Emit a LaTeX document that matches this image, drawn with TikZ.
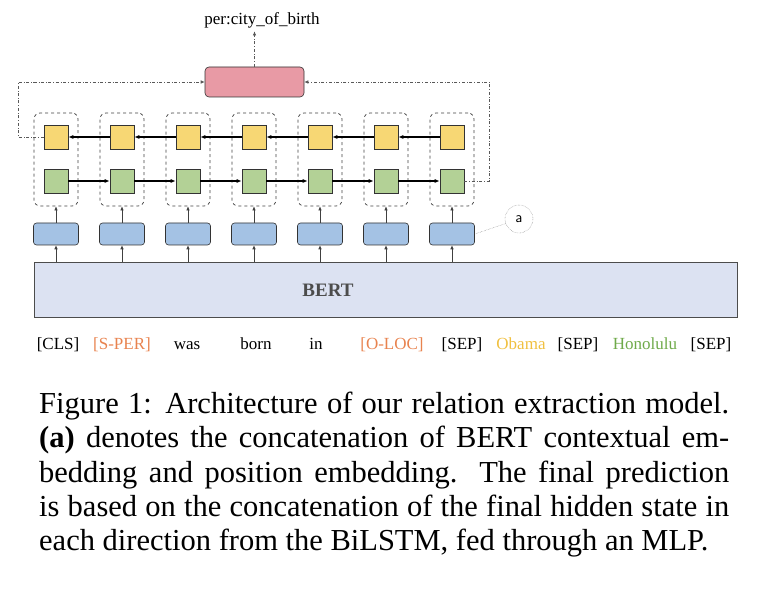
\documentclass[tikz,border=0pt]{standalone}
\usepackage{fontspec}
\setmainfont{Liberation Serif}
\usetikzlibrary{arrows.meta}
\definecolor{yel}{HTML}{F7D774}
\definecolor{grn}{HTML}{B3D196}
\definecolor{blu}{HTML}{A4C2E4}
\definecolor{rd}{HTML}{E89AA5}
\definecolor{bert}{HTML}{DCE2F2}
\definecolor{org}{HTML}{E8834F}
\definecolor{oba}{HTML}{F0C040}
\definecolor{hon}{HTML}{6FAA4A}
\begin{document}
\begin{tikzpicture}[x=1pt,y=-1pt,
 sq/.style={draw=black!80,line width=0.6pt,minimum width=24pt,minimum height=24pt,inner sep=0},
 cont/.style={draw=black!75,dashed,rounded corners=6pt,line width=0.7pt,minimum width=44pt,minimum height=93pt,inner sep=0},
 emb/.style={draw=black!80,fill=blu,rounded corners=3pt,minimum width=45pt,minimum height=22pt,inner sep=0,line width=0.6pt},
 arr/.style={-{Latex[length=5pt,width=4pt]},line width=1.1pt},
 up/.style={-{Latex[length=4pt,width=3.5pt]},line width=0.6pt,black!75},
 dd/.style={dash dot,line width=0.6pt,black!65},
 tok/.style={font=\fontsize{17}{18}\selectfont,inner sep=0,anchor=base}]
\useasboundingbox (0,0) rectangle (764,601);
\node[draw=black!70,fill=bert,minimum width=703pt,minimum height=55pt,inner sep=0,line width=0.6pt] (bert) at (385.5,289.5) {};
\node[font=\fontsize{19}{20}\selectfont\bfseries,text=black!70] (bt) at (328,290) {BERT};
\foreach \i/\x in {1/56,2/122,3/188,4/254,5/320,6/386,7/452}{
 \node[cont] (c\i) at (\x,159.5) {};
 \node[sq,fill=yel] (y\i) at (\x,137) {};
 \node[sq,fill=grn] (g\i) at (\x,181) {};
 \node[emb] (e\i) at (\x,234) {};
 \draw[up] (e\i.south|-bert.north) -- (e\i.south);
 \draw[up] (e\i.north) -- (c\i.south);
}
\foreach \a/\b in {1/2,2/3,3/4,4/5,5/6,6/7}{
 \draw[arr] (y\b.west) -- (y\a.east);
 \draw[arr] (g\a.east) -- (g\b.west);
}
\node[draw=black!80,fill=rd,rounded corners=4pt,minimum width=99pt,minimum height=30pt,inner sep=0,line width=0.6pt] (mlp) at (254.5,82) {};
\node[font=\fontsize{17}{18}\selectfont] (out) at (262,20) {per:city\_of\_birth};
\draw[dd,-{Latex[length=4pt,width=3.5pt]}] (mlp.north) -- (mlp.north|-out.south);
\coordinate (l1) at (18,137); \coordinate (l2) at (18,82);
\coordinate (r1) at (489,181); \coordinate (r2) at (489,82);
\draw[dd,-{Latex[length=4pt,width=3.5pt]}] (y1.west) -- (l1) -- (l2) -- (mlp.west);
\draw[dd,-{Latex[length=4pt,width=3.5pt]}] (g7.east) -- (r1) -- (r2) -- (mlp.east);
\node[draw=black!60,densely dotted,circle,minimum size=28pt,inner sep=0,font=\fontsize{15}{16}\sffamily] (a) at (519,219) {a};
\draw[densely dotted,black!60] (e7.east) -- (a);
\node[tok] at (58,350) {[CLS]};
\node[tok,text=org] at (122,350) {[S-PER]};
\node[tok] at (187,350) {was};
\node[tok] at (256,350) {born};
\node[tok] at (316,350) {in};
\node[tok,text=org] at (392,350) {[O-LOC]};
\node[tok] at (462,350) {[SEP]};
\node[tok,text=oba] at (521,350) {Obama};
\node[tok] at (578,350) {[SEP]};
\node[tok,text=hon] at (645,350) {Honolulu};
\node[tok] at (711,350) {[SEP]};
\node[anchor=north west,inner sep=0,text width=690pt,align=justify,font=\fontsize{30.5}{34.3}\selectfont] (cap) at (39,392) {Figure 1: Architecture of our relation extraction model.\linebreak \textbf{(a)} denotes the concatenation of BERT contextual em-\linebreak bedding and position embedding. The final prediction\linebreak is based on the concatenation of the final hidden state in\linebreak each direction from the BiLSTM, fed through an MLP.};
\end{tikzpicture}
\end{document}
